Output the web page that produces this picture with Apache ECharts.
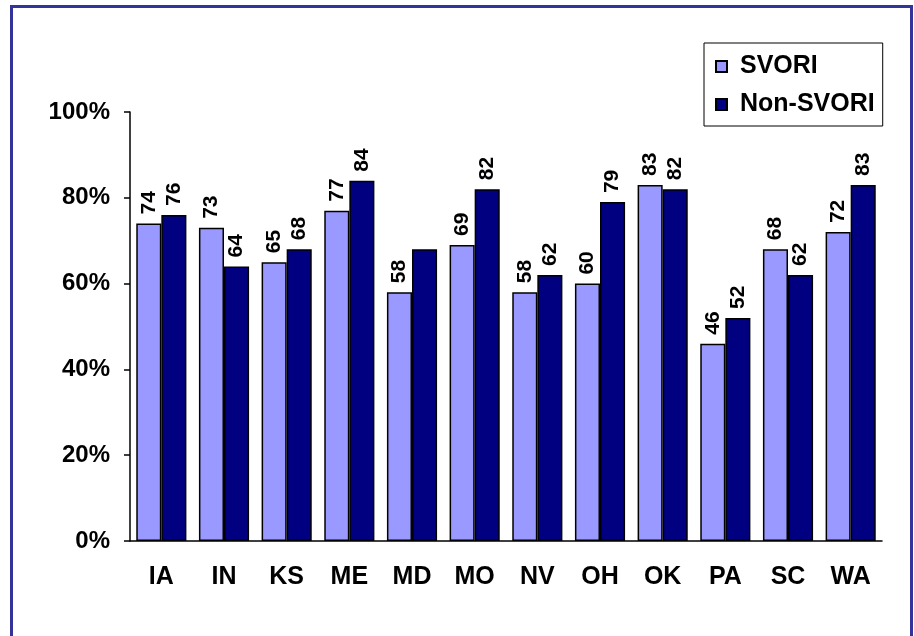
<!DOCTYPE html>
<html>
<head>
<meta charset="utf-8">
<script src="https://cdn.jsdelivr.net/npm/echarts@6/dist/echarts.min.js"></script>
<style>
  html, body { margin: 0; padding: 0; background: #fff; }
  #main { width: 914px; height: 636px; }
</style>
</head>
<body>
<div id="main"></div>
<script>
const states = ['IA', 'IN', 'KS', 'ME', 'MD', 'MO', 'NV', 'OH', 'OK', 'PA', 'SC', 'WA']
const svori = [74, 73, 65, 77, 58, 69, 58, 60, 83, 46, 68, 72]
const nonSvori = [76, 64, 68, 84, 68, 82, 62, 79, 82, 52, 62, 83]
// the MD non-SVORI bar has no label in the original
const hiddenLabels = ['MD']

const font = 'Arial, "Liberation Sans", sans-serif'

const barLabel = {
  show: true,
  position: 'top',
  rotate: 90,
  align: 'left',
  verticalAlign: 'middle',
  distance: 9,
  color: '#000',
  fontFamily: font,
  fontWeight: 'bold',
  fontSize: 21
}

const chart = echarts.init(document.getElementById('main'))
chart.setOption({
  animation: false,
  graphic: [{
    type: 'rect',
    shape: { x: 11.5, y: 6.5, width: 900, height: 660 },
    style: { fill: 'none', stroke: '#333399', lineWidth: 3 },
    silent: true
  }],
  legend: {
    left: 704,
    top: 43,
    orient: 'vertical',
    padding: [11, 8, 9, 11],
    itemGap: 13,
    itemWidth: 11,
    itemHeight: 11,
    icon: 'rect',
    borderColor: '#000',
    borderWidth: 1,
    textStyle: {
      fontFamily: font, fontWeight: 'bold', fontSize: 25, color: '#000',
      padding: [0, 0, 0, 8]
    },
    data: ['SVORI', 'Non-SVORI']
  },
  grid: { left: 130, right: 32, top: 112, bottom: 95 },
  xAxis: {
    type: 'category',
    data: states,
    axisLine: { lineStyle: { color: '#000', width: 1.5 } },
    axisTick: { length: 6, lineStyle: { color: '#000', width: 1.5 } },
    axisLabel: { margin: 24, color: '#000', fontFamily: font, fontWeight: 'bold', fontSize: 25 }
  },
  yAxis: {
    type: 'value',
    min: 0,
    max: 100,
    interval: 20,
    splitLine: { show: false },
    axisLine: { show: true, lineStyle: { color: '#000', width: 1.5 } },
    axisTick: { show: true, length: 6, lineStyle: { color: '#000', width: 1.5 } },
    axisLabel: { margin: 20, formatter: '{value}%', color: '#000', fontFamily: font, fontWeight: 'bold', fontSize: 24 }
  },
  series: [{
    name: 'SVORI',
    type: 'bar',
    data: svori,
    barGap: '0%',
    barCategoryGap: '20%',
    itemStyle: { color: '#9999FF', borderColor: '#000', borderWidth: 1.5 },
    label: barLabel
  }, {
    name: 'Non-SVORI',
    type: 'bar',
    data: nonSvori.map((v, i) => hiddenLabels.includes(states[i]) ? { value: v, label: { show: false } } : v),
    itemStyle: { color: '#000080', borderColor: '#000', borderWidth: 1.5 },
    label: barLabel
  }]
})
</script>
</body>
</html>
